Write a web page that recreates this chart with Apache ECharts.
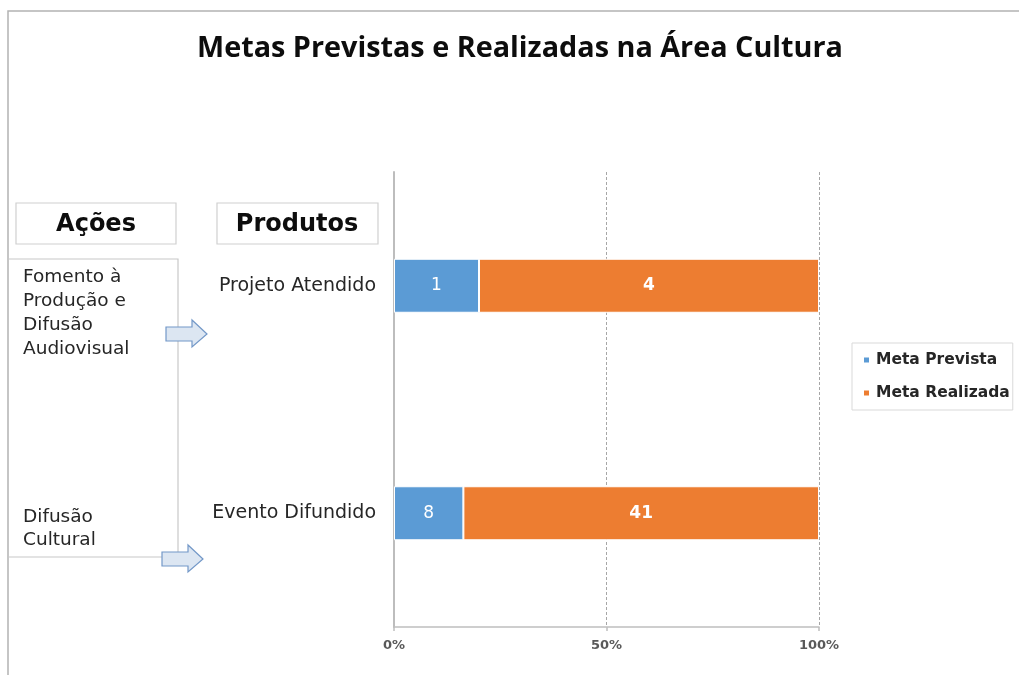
<!DOCTYPE html>
<html>
<head>
<meta charset="utf-8">
<script src="https://cdn.jsdelivr.net/npm/echarts@6/dist/echarts.min.js"></script>
<style>
html,body{margin:0;padding:0;background:#fff;}
#chart{width:1019px;height:675px;}
</style>
</head>
<body>
<div id="chart"></div>
<script>
const titleText = 'Metas Previstas e Realizadas na Área Cultura';
const categories = ['Projeto Atendido', 'Evento Difundido'];
const seriesNames = ['Meta Prevista', 'Meta Realizada'];
const metaPrevista = [1, 8];
const metaRealizada = [4, 41];
const xTicks = [0, 50, 100];
const acoesHeader = 'Ações';
const produtosHeader = 'Produtos';
const acoes = ['Fomento à\nProdução e\nDifusão\nAudiovisual', 'Difusão\nCultural'];

const totals = categories.map((_, i) => metaPrevista[i] + metaRealizada[i]);
const pctPrevista = metaPrevista.map((v, i) => v / totals[i] * 100);
const pctRealizada = metaRealizada.map((v, i) => v / totals[i] * 100);

const BODY = 'DejaVu Sans';
const TITLE_FONT = 'bold 29px "Open Sans"';
const cvs = document.createElement('canvas').getContext('2d');
cvs.font = TITLE_FONT;
const titleW = cvs.measureText(titleText).width || 646;
const titleScale = 646 / titleW;

const chart = echarts.init(document.getElementById('chart'), null, {renderer: 'canvas'});

function arrow(x, cy) {
  return {
    type: 'polygon',
    shape: {points: [[x, cy - 7], [x + 26, cy - 7], [x + 26, cy - 14], [x + 41, cy], [x + 26, cy + 13], [x + 26, cy + 7], [x, cy + 7]]},
    style: {fill: '#dce6f2', stroke: '#7398c8', lineWidth: 1.2},
    z: 10
  };
}

const option = {
  backgroundColor: '#fff',
  animation: false,
  legend: {
    orient: 'vertical',
    left: 852,
    top: 343,
    data: seriesNames,
    icon: 'rect',
    itemWidth: 7,
    itemHeight: 7,
    itemGap: 17,
    borderColor: '#d9d9d9',
    borderWidth: 1,
    padding: [9, 3, 9, 10],
    textStyle: {fontFamily: BODY, fontWeight: 'bold', fontSize: 15.5, color: '#262626', padding: [0, 0, 0, 1]}
  },
  grid: {left: 394, right: 200, top: 172, bottom: 48, containLabel: false},
  xAxis: {
    type: 'value',
    min: xTicks[0],
    max: xTicks[xTicks.length - 1],
    interval: xTicks[1] - xTicks[0],
    axisLine: {show: true, lineStyle: {color: '#bfbfbf', width: 1.5}},
    axisTick: {show: true, length: 4, lineStyle: {color: '#bfbfbf', width: 1.5}},
    axisLabel: {formatter: '{value}%', fontFamily: BODY, fontWeight: 'bold', fontSize: 13, color: '#595959', margin: 12},
    splitLine: {show: true, lineStyle: {color: '#a6a6a6', type: [3, 2], width: 1}}
  },
  yAxis: {
    type: 'category',
    data: categories,
    inverse: true,
    axisLine: {show: true, lineStyle: {color: '#bdbdbd', width: 2}},
    axisTick: {show: false},
    axisLabel: {fontFamily: BODY, fontSize: 19, color: '#262626', margin: 18}
  },
  series: [
    {
      name: seriesNames[0],
      type: 'bar',
      stack: 'total',
      barWidth: 54,
      data: pctPrevista,
      itemStyle: {color: '#5b9bd5', borderColor: '#fff', borderWidth: 1},
      label: {
        show: true, position: 'inside', color: '#fff', fontFamily: BODY, fontSize: 17,
        formatter: p => String(metaPrevista[p.dataIndex])
      }
    },
    {
      name: seriesNames[1],
      type: 'bar',
      stack: 'total',
      barWidth: 54,
      data: pctRealizada,
      itemStyle: {color: '#ed7d31', borderColor: '#fff', borderWidth: 1},
      label: {
        show: true, position: 'inside', color: '#fff', fontFamily: BODY, fontWeight: 'bold', fontSize: 17,
        formatter: p => String(metaRealizada[p.dataIndex])
      }
    }
  ],
  graphic: [
    {type: 'polyline', shape: {points: [[1019, 11], [8, 11], [8, 675]]}, style: {stroke: '#b3b3b3', lineWidth: 1.5, fill: null}, silent: true},
    {type: 'text', x: 197, y: 49, scaleX: titleScale, style: {text: titleText, font: TITLE_FONT, fill: '#0d0d0d', align: 'left', verticalAlign: 'middle'}},
    {type: 'rect', shape: {x: 16, y: 203, width: 160, height: 41}, style: {fill: '#fff', stroke: '#d0d0d0', lineWidth: 1.2}},
    {type: 'text', x: 96, y: 225, style: {text: acoesHeader, fontFamily: BODY, fontWeight: 'bold', fontSize: 24, fill: '#0d0d0d', align: 'center', verticalAlign: 'middle'}},
    {type: 'rect', shape: {x: 217, y: 203, width: 161, height: 41}, style: {fill: '#fff', stroke: '#d0d0d0', lineWidth: 1.2}},
    {type: 'text', x: 297, y: 225, style: {text: produtosHeader, fontFamily: BODY, fontWeight: 'bold', fontSize: 24, fill: '#0d0d0d', align: 'center', verticalAlign: 'middle'}},
    {type: 'polyline', shape: {points: [[8, 259], [178, 259], [178, 557], [8, 557]]}, style: {stroke: '#c8c8c8', lineWidth: 1.2, fill: null}},
    {type: 'text', x: 23, y: 265, style: {text: acoes[0], fontFamily: BODY, fontSize: 18.5, lineHeight: 24, fill: '#262626', align: 'left', verticalAlign: 'top'}},
    {type: 'text', x: 23, y: 506, style: {text: acoes[1], fontFamily: BODY, fontSize: 18.5, lineHeight: 23, fill: '#262626', align: 'left', verticalAlign: 'top'}},
    arrow(166, 334),
    arrow(162, 559)
  ]
};
chart.setOption(option);
</script>
</body>
</html>
